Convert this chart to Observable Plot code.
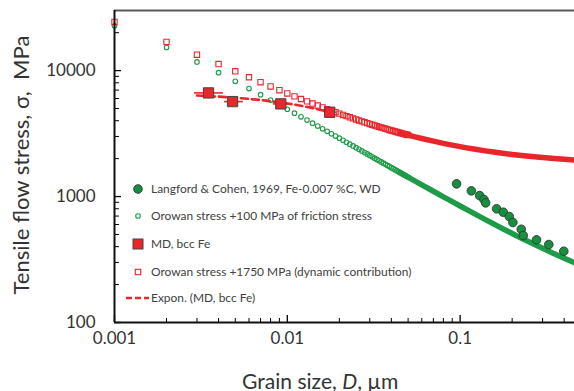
<!DOCTYPE html>
<html><head><meta charset="utf-8">
<script src="https://cdn.jsdelivr.net/npm/d3@7"></script>
<script src="https://cdn.jsdelivr.net/npm/@observablehq/plot@0.6"></script>
<style>
html,body{margin:0;padding:0;background:#fff;}
#wrap{position:relative;width:574px;height:391px;overflow:hidden;font-family:Lato,"Open Sans",sans-serif;color:#333;}
#wrap svg.plot{position:absolute;left:0;top:0;}
.row{position:absolute;left:0;height:0;color:#404040;white-space:nowrap;}
.row svg{position:absolute;left:124px;top:-7px;}
.row span{position:absolute;left:151px;top:0;transform:translateY(-52%);}
.ttl{position:absolute;line-height:1.1;color:#333;white-space:pre;}
</style></head><body><div id="wrap"></div>
<script>
// Orowan stress series (grain size D in µm, stress in MPa)
const orowanD = [0.001,0.002,0.003,0.004,0.005,0.006,0.007,0.008,0.009,0.010,
  0.011,0.012,0.013,0.014,0.015,0.016,0.017,0.018,0.019,0.020,
  0.021,0.022,0.023,0.024,0.025,0.026,0.027,0.028,0.029,0.030,
  0.031,0.032,0.033,0.034,0.035,0.036,0.037,0.038,0.039,0.040,
  0.041,0.042,0.043,0.044,0.045,0.046,0.047,0.048,0.049,0.050];
const orowanFriction = [22672,15264,11722,9621,8216,7204,6435,5830,5340,4934,
  4591,4298,4044,3822,3625,3450,3293,3151,3022,2905,
  2797,2698,2607,2522,2444,2370,2302,2238,2178,2121,
  2068,2017,1970,1924,1882,1841,1802,1765,1730,1696,
  1664,1633,1604,1575,1548,1522,1497,1473,1449,1427];
const orowanDynamic = [24322,16914,13372,11271,9866,8854,8085,7480,6990,6584,
  6241,5948,5694,5472,5275,5100,4943,4801,4672,4555,
  4447,4348,4257,4172,4094,4020,3952,3888,3828,3771,
  3718,3667,3620,3574,3532,3491,3452,3415,3380,3346,
  3314,3283,3254,3225,3198,3172,3147,3123,3099,3077];
// dense part of the same series (markers merge into a band)
const denseD = [0.045,0.05,0.06,0.07,0.08,0.09,0.1,0.12,0.14,0.16,0.18,0.2,0.25,0.3,0.35,0.4,0.46];
const denseFriction = [1548,1427,1240,1102,995,910,841,735,656,596,548,509,437,388,352,324,298];
const denseDynamic = [3198,3077,2890,2752,2645,2560,2491,2385,2306,2246,2198,2159,2087,2038,2002,1974,1948];
// MD, bcc Fe
const mdD = [0.0035,0.00482,0.00917,0.0176];
const mdStress = [6650,5675,5441,4668];
const mdDlow = [0.00288,0.0043,0.00825,0.01626];
const mdDhigh = [0.00424,0.00553,0.0102,0.01906];
// Langford & Cohen 1969
const langfordD = [0.0954,0.1161,0.1297,0.1374,0.1405,0.1626,0.1777,0.1925,0.202,0.2258,0.2319,0.2768,0.326,0.398];
const langfordStress = [1261,1110,1018,947,891,799,751,694,622,550,490,453,416,368];
// Exponential trend (MD, bcc Fe)
const exponD = [0.003,0.005,0.0075,0.01,0.0125,0.015,0.0178];
const exponStress = [6343,6084,5774,5480,5201,4936,4656];
// ticks
const xTicksMajor = [0.001,0.01,0.1];
const xTicksMinor = [0.002,0.003,0.004,0.005,0.006,0.007,0.008,0.009,0.02,0.03,0.04,0.05,0.06,0.07,0.08,0.09,0.2,0.3,0.4];
const yTicksMajor = [100,1000,10000];
const yTicksMinor = [200,300,400,500,600,700,800,900,2000,3000,4000,5000,6000,7000,8000,9000,20000];
const legendLabels = ["Langford & Cohen, 1969, Fe-0.007 %C, WD","Orowan stress +100 MPa of friction stress","MD, bcc Fe","Orowan stress +1750 MPa (dynamic contribution)","Expon. (MD, bcc Fe)"];

const GREEN = "#1e9b48", GREEN_FILL = "#14903f", RED = "#e8262b";
const W = 574, H = 391, ML = 114, MT = 10, MB = 69, MR = 0;
const PW = W - ML - MR, PH = H - MT - MB;

const orowan = orowanD.map((d,i)=>({D:d, f:orowanFriction[i], g:orowanDynamic[i]}));
const dense = denseD.map((d,i)=>({D:d, f:denseFriction[i], g:denseDynamic[i]}));
const md = mdD.map((d,i)=>({D:d, s:mdStress[i], lo:mdDlow[i], hi:mdDhigh[i]}));
const lang = langfordD.map((d,i)=>({D:d, s:langfordStress[i]}));
const expon = exponD.map((d,i)=>({D:d, s:exponStress[i]}));

const chart = Plot.plot({
  width: W, height: H,
  marginLeft: ML, marginRight: MR, marginTop: MT, marginBottom: MB,
  x: {type: "log", domain: [0.001, 0.459]},
  y: {type: "log", domain: [100, 30000]},
  style: {fontFamily: "Lato, 'Open Sans', sans-serif", color: "#333", background: "transparent", overflow: "hidden"},
  marks: [
    Plot.axisX({ticks: xTicksMajor, tickSize: 0, tickPadding: 9, tickFormat: d => String(d), fontSize: 17, label: null}),
    Plot.axisY({ticks: yTicksMajor, tickSize: 0, tickPadding: 19, tickFormat: d => String(d), fontSize: 17, label: null}),
    // dense bands
    Plot.line(dense, {x: "D", y: "f", stroke: GREEN, strokeWidth: 5.5, curve: "monotone-x"}),
    Plot.line(dense, {x: "D", y: "g", stroke: RED, strokeWidth: 5.5, curve: "monotone-x"}),
    // open markers
    Plot.dot(orowan, {x: "D", y: "f", r: 2.3, stroke: GREEN, strokeWidth: 1.1, fill: "none"}),
    Plot.dot(orowan, {x: "D", y: "g", r: 3.0, symbol: "square", stroke: RED, strokeWidth: 1.1, fill: "none"}),
    // exponential trend
    Plot.line(expon, {x: "D", y: "s", stroke: RED, strokeWidth: 2.6, strokeDasharray: "7,4", curve: "monotone-x"}),
    // MD error bars and squares
    Plot.link(md, {x1: "lo", x2: "hi", y1: "s", y2: "s", stroke: RED, strokeWidth: 1.6}),
    Plot.dot(md, {x: "D", y: "s", r: 5.8, symbol: "square", fill: RED, stroke: "#444", strokeWidth: 1}),
    // Langford data
    Plot.dot(lang, {x: "D", y: "s", r: 4.3, fill: GREEN_FILL, stroke: "#333", strokeWidth: 0.9}),
    // ticks (inward)
    Plot.tickX(xTicksMajor, {x: d => d, stroke: "#000", strokeWidth: 1.3, insetTop: PH - 7}),
    Plot.tickX(xTicksMinor, {x: d => d, stroke: "#000", strokeWidth: 1, insetTop: PH - 4}),
    Plot.tickY(yTicksMajor, {y: d => d, stroke: "#000", strokeWidth: 1.3, insetRight: PW - 7}),
    Plot.tickY(yTicksMinor, {y: d => d, stroke: "#000", strokeWidth: 1, insetRight: PW - 5}),
    // frame lines
    Plot.ruleY([30000], {stroke: "#595959", strokeWidth: 2}),
    Plot.ruleX([0.001], {stroke: "#111", strokeWidth: 2}),
    Plot.ruleY([100], {stroke: "#111", strokeWidth: 2})
  ]
});
chart.classList.add("plot");
const wrap = document.getElementById("wrap");
wrap.appendChild(chart);

// helper: font size that gives a text a target width
function fitSize(html, target) {
  const s = document.createElement("span");
  s.style.cssText = "position:absolute;visibility:hidden;white-space:pre;font-size:20px;";
  s.innerHTML = html;
  wrap.appendChild(s);
  const w = s.offsetWidth;
  wrap.removeChild(s);
  return 20 * target / w;
}

// legend (HTML overlay)
const legSize = Math.min(13, fitSize(legendLabels[0].replace("&", "&amp;"), 230));
const rowsY = [189, 216, 244, 272, 298];
const symbols = [
  `<svg width="28" height="14"><circle cx="14" cy="7" r="4.3" fill="${GREEN_FILL}" stroke="#333" stroke-width="0.9"/></svg>`,
  `<svg width="28" height="14"><circle cx="14" cy="7" r="2.3" fill="none" stroke="${GREEN}" stroke-width="1.1"/></svg>`,
  `<svg width="28" height="14"><rect x="9" y="2" width="10" height="10" fill="${RED}" stroke="#444" stroke-width="1"/></svg>`,
  `<svg width="28" height="14"><rect x="11.3" y="4.3" width="5.4" height="5.4" fill="none" stroke="${RED}" stroke-width="1.1"/></svg>`,
  `<svg width="28" height="14"><line x1="2" y1="7" x2="25" y2="7" stroke="${RED}" stroke-width="2.4" stroke-dasharray="6,3"/></svg>`
];
legendLabels.forEach((t, i) => {
  const r = document.createElement("div");
  r.className = "row";
  r.style.top = rowsY[i] + "px";
  r.style.fontSize = legSize + "px";
  r.innerHTML = symbols[i];
  const s = document.createElement("span");
  s.textContent = t;
  r.appendChild(s);
  wrap.appendChild(r);
});

// axis titles
const yHtml = "Tensile flow stress, σ,  MPa";
const yt = document.createElement("div");
yt.className = "ttl";
yt.textContent = yHtml;
yt.style.fontSize = Math.min(22, fitSize(yHtml, 262)) + "px";
wrap.appendChild(yt);
const w = yt.offsetWidth, h = yt.offsetHeight;
yt.style.left = (21 - w / 2) + "px";
yt.style.top = (165 - h / 2) + "px";
yt.style.transform = "rotate(-90deg)";

const xHtml = "Grain size, <i>D</i>, µm";
const xt = document.createElement("div");
xt.className = "ttl";
xt.innerHTML = xHtml;
xt.style.fontSize = Math.min(22, fitSize(xHtml, 156)) + "px";
wrap.appendChild(xt);
const w2 = xt.offsetWidth, h2 = xt.offsetHeight;
xt.style.left = (320 - w2 / 2) + "px";
xt.style.top = (380 - h2 / 2) + "px";
</script>
</body></html>
